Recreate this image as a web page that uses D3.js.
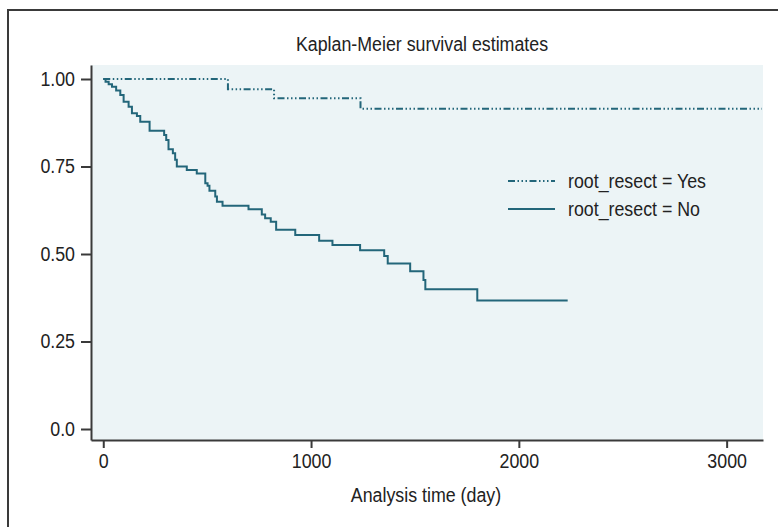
<!DOCTYPE html>
<html>
<head>
<meta charset="utf-8">
<script src="https://cdn.jsdelivr.net/npm/d3@7"></script>
<style>
  body { margin: 0; background: #fff; }
  svg text { font-family: "Liberation Sans", Arial, sans-serif; fill: #222; }
</style>
</head>
<body>
<div id="chart"></div>
<script>
// Kaplan-Meier estimates (day, survival)
var noTimes = [0, 11, 26, 42, 62, 82, 98, 122, 138, 162, 178, 223, 293, 303, 314, 335, 346, 354, 402, 450,
    491, 502, 511, 539, 547, 574, 699, 763, 779, 806, 832, 924, 1039, 1103, 1236, 1352, 1369, 1477, 1541,
    1550, 1800, 2235];
var noSurv = [1.000, 0.992, 0.985, 0.978, 0.967, 0.954, 0.935, 0.921, 0.902, 0.894, 0.878, 0.852, 0.840, 0.826,
    0.799, 0.788, 0.769, 0.750, 0.740, 0.730, 0.702, 0.695, 0.681, 0.664, 0.649, 0.638, 0.628, 0.613, 0.602,
    0.592, 0.569, 0.554, 0.538, 0.526, 0.511, 0.494, 0.473, 0.451, 0.426, 0.399, 0.367, 0.367];
var yesTimes = [0, 600, 822, 1238, 3170];
var yesSurv = [1.000, 0.971, 0.945, 0.915, 0.915];

var xTicks = [0, 1000, 2000, 3000];
var yTicks = [0, 0.25, 0.5, 0.75, 1];
var yTickLabels = ["0.0", "0.25", "0.50", "0.75", "1.00"];
var legendLabels = ["root_resect = Yes", "root_resect = No"];

var w = 778, h = 527;
var mLeft = 91, mRight = 763, mTop = 65, mBottom = 440;
var lineColor = "#23667a";
var squeeze = 0.89; // the reference uses a narrow face

var svg = d3.select("#chart")
    .append("svg")
    .attr("width", w)
    .attr("height", h);

// outer frame (only left and top edges are visible in the crop)
svg.append("path")
    .attr("d", "M8,527 V10 H778")
    .attr("fill", "none")
    .attr("stroke", "#3a3a3a")
    .attr("stroke-width", 2);

// plot region background
svg.append("rect")
    .attr("x", mLeft).attr("y", mTop)
    .attr("width", mRight - mLeft).attr("height", mBottom - mTop)
    .attr("fill", "#ecf4f6");

var x = d3.scaleLinear().domain([-59, 3175]).range([mLeft, mRight]);
var y = d3.scaleLinear().domain([-0.0314, 1.04]).range([mBottom, mTop]);

var xaxis = d3.axisBottom(x)
    .tickValues(xTicks)
    .tickSize(8)
    .tickPadding(6)
    .tickSizeOuter(0)
    .tickFormat(d3.format("d"));
svg.append("g")
    .attr("class", "xaxis")
    .attr("transform", "translate(0," + mBottom + ")")
    .call(xaxis);

var yaxis = d3.axisLeft(y)
    .tickValues(yTicks)
    .tickSize(10)
    .tickPadding(6)
    .tickSizeOuter(0)
    .tickFormat((d, i) => yTickLabels[i]);
svg.append("g")
    .attr("class", "yaxis")
    .attr("transform", "translate(" + mLeft + ",0)")
    .call(yaxis);

svg.selectAll(".xaxis path, .yaxis path, .xaxis line, .yaxis line")
    .attr("stroke", "#3a3a3a")
    .attr("stroke-width", 2);
svg.selectAll(".xaxis text, .yaxis text")
    .attr("font-size", 20)
    .attr("fill", "#222")
    .attr("transform", "scale(" + squeeze + ",1)");
svg.selectAll(".yaxis text")
    .attr("x", -16 / squeeze);

// step curves
var step = d3.line()
    .x(d => x(d[0]))
    .y(d => y(d[1]))
    .curve(d3.curveStepAfter);

var yesDash = "7,2.5,1.5,2.5,1.5,2.5,1.5,2.5";

svg.append("path")
    .datum(d3.zip(yesTimes, yesSurv))
    .attr("d", step)
    .attr("fill", "none")
    .attr("stroke", lineColor)
    .attr("stroke-width", 2)
    .attr("stroke-dasharray", yesDash);

svg.append("path")
    .datum(d3.zip(noTimes, noSurv))
    .attr("d", step)
    .attr("fill", "none")
    .attr("stroke", lineColor)
    .attr("stroke-width", 2);

function squeezedText(px, py, anchor, str, size) {
    return svg.append("text")
        .attr("transform", "translate(" + px + "," + py + ") scale(" + squeeze + ",1)")
        .attr("text-anchor", anchor)
        .attr("font-size", size)
        .text(str);
}

// legend
legendLabels.forEach((lab, i) => {
    svg.append("line")
        .attr("x1", 508).attr("x2", 555)
        .attr("y1", 181 + i * 28).attr("y2", 181 + i * 28)
        .attr("stroke", lineColor)
        .attr("stroke-width", 2)
        .attr("stroke-dasharray", i == 0 ? yesDash : null);
    squeezedText(568, 188 + i * 28, "start", lab, 20);
});

// titles
squeezedText(422, 51, "middle", "Kaplan-Meier survival estimates", 20);
squeezedText(426, 502, "middle", "Analysis time (day)", 20);
</script>
</body>
</html>
